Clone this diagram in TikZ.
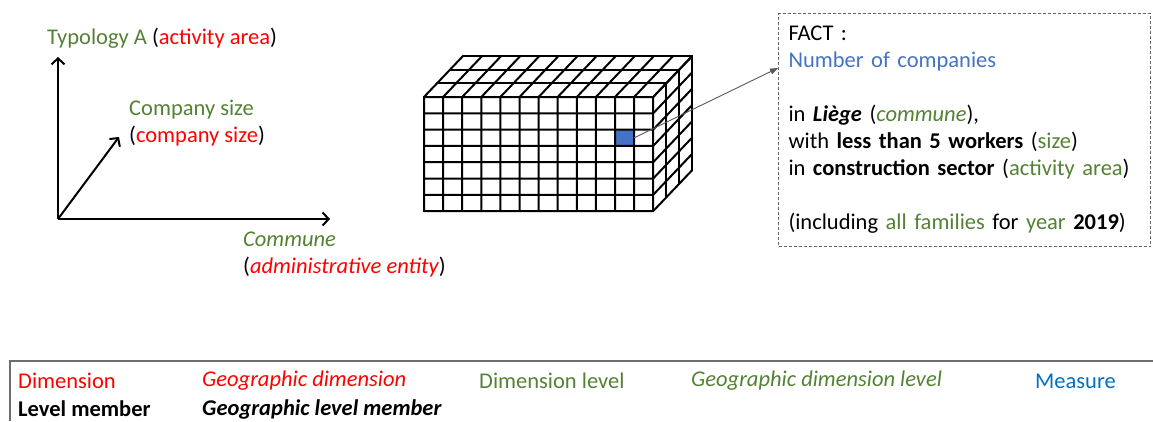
\documentclass[tikz,border=0pt]{standalone}
\usepackage{fontspec}
\setmainfont{Carlito}
\usepackage{tikz}
\usetikzlibrary{arrows.meta}
\definecolor{dRed}{RGB}{255,0,0}
\definecolor{dGreen}{RGB}{84,130,53}
\definecolor{dBlue}{RGB}{68,114,196}
\definecolor{dMeas}{RGB}{0,112,192}
\definecolor{dFrame}{RGB}{110,110,110}
\newcommand{\cDim}[1]{\textcolor{dRed}{#1}}
\newcommand{\cLvl}[1]{\textcolor{dGreen}{#1}}
\tikzset{
  lbl/.style={anchor=west, inner sep=0pt, align=left,
              font=\fontsize{22.5}{27}\selectfont},
  axis/.style={-{Straight Barb[length=6pt,width=13pt]}, line width=2pt},
  cubeline/.style={line width=2pt, line cap=round},
  hitcell/.style={rectangle, fill=dBlue, inner sep=0pt,
                  minimum width=19.1pt, minimum height=16.3pt},
  flow/.style={-{Triangle[length=8pt,width=6pt]}, draw=black!65, line width=0.9pt},
  factbox/.style={draw=black!60, dash pattern=on 3pt off 2pt, line width=1pt,
                  inner xsep=10pt, inner ysep=0pt, align=left,
                  text width=352pt, minimum width=372pt, minimum height=233pt,
                  font=\fontsize{22.5}{27}\selectfont},
}
\begin{document}
\begin{tikzpicture}[x=1pt, y=-1pt]
  \useasboundingbox (0,0) rectangle (1153,421);
  % the three axes
  \coordinate (o) at (58,219);
  \coordinate (ytip) at (58,57);
  \coordinate (xtip) at (330,219);
  \coordinate (ztip) at (119,137);
  \draw[axis] (o) -- (ytip);
  \draw[axis] (o) -- (xtip);
  \draw[axis] (o) -- (ztip);
  \node[lbl] (typo) at (47,38) {\cLvl{Typology A} (\cDim{activity area})};
  \node[lbl] (csize) at (129,123) {\cLvl{Company size}\\(\cDim{company size})};
  \node[lbl] (commune) at (243,255) {\cLvl{\itshape Commune}\\(\cDim{\itshape administrative entity})};
  % the cube, 12 x 7 x 3 cells
  \begin{scope}[shift={(424,97)}, x=19.1pt, y=-16.3pt]
    \node[hitcell] (cell) at (10.5,2.5) {};
    \foreach \i in {0,...,12}
      \draw[cubeline] (\i,7) -- (\i,0) -- ++(39pt,41pt);
    \foreach \j in {0,...,7}
      \draw[cubeline] (0,\j) -- (12,\j) -- ++(39pt,41pt);
    \foreach \k in {1,...,3} {
      \draw[cubeline] (0,0) ++(\k*13pt,\k*13.7pt) -- ++(12,0) -- ++(0,7);
    }
  \end{scope}
  % the fact it stands for
  \node[factbox, anchor=north west] (fact) at (778,13) {%
    FACT :\\
    \textcolor{dBlue}{Number of companies}\\[27pt]
    in \textbf{\textit{Liège}} (\cLvl{\itshape commune}),\\
    with \textbf{less than 5 workers} (\cLvl{size})\\
    in \textbf{construction sector} (\cLvl{activity area})\\[27pt]
    (including \cLvl{all families} for \cLvl{year} \textbf{2019})};
  \coordinate (factin) at ([yshift=-55pt]fact.north west);
  \draw[flow] (cell.east) -- (factin);
  % legend
  \draw[dFrame, line width=1.5pt] (10,421) -- (10,361) -- (1153,361);
  \node[lbl] (legDim) at (18,381) {\cDim{Dimension}};
  \node[lbl] (legGeoDim) at (202,381) {\cDim{\itshape Geographic dimension}};
  \node[lbl] (legLvl) at (479,381) {\cLvl{Dimension level}};
  \node[lbl] (legGeoLvl) at (691,381) {\cLvl{\itshape Geographic dimension level}};
  \node[lbl] (legMeas) at (1035,381) {\textcolor{dMeas}{Measure}};
  \node[lbl] (legMem) at (18,409) {\textbf{Level member}};
  \node[lbl] (legGeoMem) at (202,409) {\textbf{\itshape Geographic level member}};
\end{tikzpicture}
\end{document}
